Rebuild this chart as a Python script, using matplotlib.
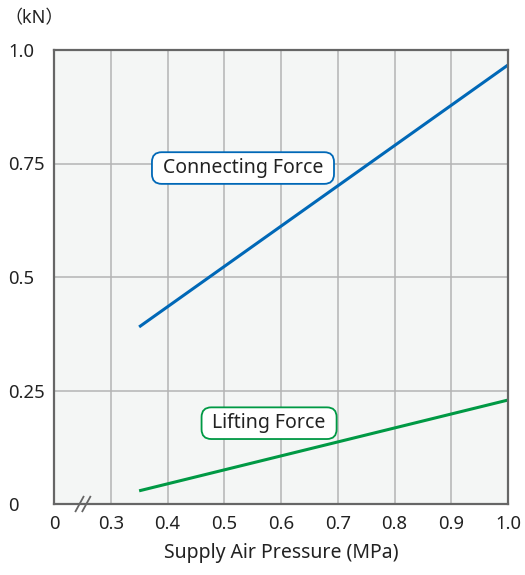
import matplotlib
matplotlib.use("Agg")
import matplotlib.pyplot as plt
from matplotlib.lines import Line2D

plt.rcParams['font.family'] = ['Noto Sans', 'Noto Sans CJK JP', 'DejaVu Sans']

# Data
x_tick_labels = ["0", "0.3", "0.4", "0.5", "0.6", "0.7", "0.8", "0.9", "1.0"]
x_tick_values = [0.2, 0.3, 0.4, 0.5, 0.6, 0.7, 0.8, 0.9, 1.0]  # 0 shown at broken-axis origin
y_tick_values = [0, 0.25, 0.5, 0.75, 1.0]
y_tick_labels = ["0", "0.25", "0.5", "0.75", "1.0"]

pressure = [0.35, 1.0]
connecting_force = [0.39, 0.967]
lifting_force = [0.029, 0.229]

blue = "#0068b7"
green = "#009944"
text_color = "#222222"

fig = plt.figure(figsize=(5.25, 5.75), dpi=100)
ax = fig.add_axes([54/525, 1-504/575, (508-54)/525, (504-50)/575])
ax.set_facecolor("#f4f6f5")

ax.set_xlim(0.2, 1.0)
ax.set_ylim(0, 1.0)
ax.set_xticks(x_tick_values)
ax.set_xticklabels(x_tick_labels)
ax.set_yticks(y_tick_values)
ax.set_yticklabels(y_tick_labels)
ax.grid(True, color="#b4b4b4", linewidth=1.1)
ax.set_axisbelow(True)
for s in ax.spines.values():
    s.set_color("#666666")
    s.set_linewidth(1.6)
ax.tick_params(length=0, labelsize=13.3, colors=text_color)
ax.tick_params(axis='x', pad=8)
ax.tick_params(axis='y', pad=33)
for lab in ax.get_yticklabels():
    lab.set_horizontalalignment('left')

ax.plot(pressure, connecting_force, color=blue, linewidth=2.2, solid_capstyle='butt')
ax.plot(pressure, lifting_force, color=green, linewidth=2.2, solid_capstyle='butt')

ax.text(0.533, 0.74, " Connecting Force ", ha='center', va='center', fontsize=14,
        color=text_color,
        bbox=dict(boxstyle="round,pad=0.3,rounding_size=0.5", fc="white", ec=blue, lw=1.3))
ax.text(0.579, 0.178, " Lifting Force ", ha='center', va='center', fontsize=14,
        color=text_color,
        bbox=dict(boxstyle="round,pad=0.3,rounding_size=0.5", fc="white", ec=green, lw=1.3))

ax.set_xlabel("Supply Air Pressure (MPa)", fontsize=14, color=text_color, labelpad=7)

# axis break marks
for dx in (0.0, 0.012):
    ax.add_line(Line2D([0.238 + dx, 0.252 + dx], [-0.016, 0.016], color="#666666",
                       linewidth=1.3, clip_on=False))

fig.text(4/525, 1-18/575, "（kN）", ha='left', va='center', fontsize=13, color=text_color)

fig.savefig("out.png", dpi=100)
